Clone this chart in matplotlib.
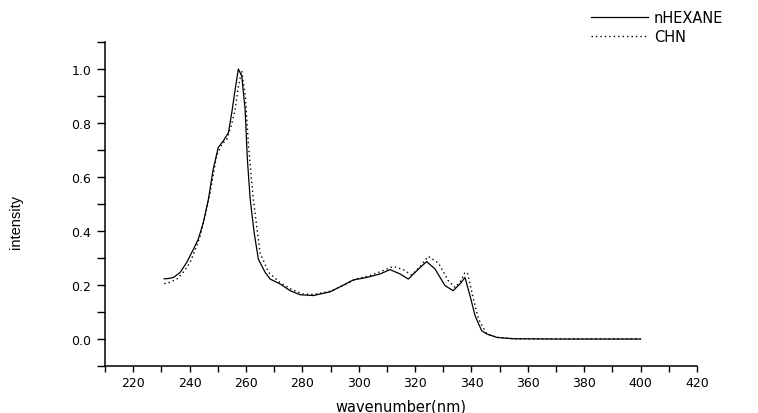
import numpy as np
import matplotlib.pyplot as plt
from matplotlib.ticker import MultipleLocator

plt.rcParams['font.family'] = ['DejaVu Sans']

# nHEXANE spectrum
hex_x = [231, 232.5, 234.3, 236.7, 239.0, 241.4, 243.1, 244.9, 246.7, 248.4, 250.2,
         252.0, 253.8, 255.0, 256.2, 257.3, 258.5, 259.7, 260.5, 261.5, 262.9, 264.4,
         266.8, 268.6, 272.1, 275.7, 279.2, 283.9, 289.9, 294.6, 298.1, 302.8, 307.6,
         311.1, 314.7, 317.6, 320.6, 324.1, 327.1, 330.6, 333.5, 335.9, 337.7, 339.5,
         341.3, 343.6, 345.4, 349.0, 355.0, 370.0, 385.0, 400.0]
hex_y = [0.223, 0.224, 0.228, 0.247, 0.284, 0.333, 0.370, 0.432, 0.518, 0.630, 0.710,
         0.734, 0.765, 0.840, 0.926, 1.000, 0.975, 0.852, 0.667, 0.519, 0.395, 0.296,
         0.247, 0.222, 0.204, 0.179, 0.164, 0.161, 0.175, 0.200, 0.219, 0.228, 0.241,
         0.257, 0.241, 0.222, 0.253, 0.287, 0.259, 0.198, 0.179, 0.204, 0.228, 0.160,
         0.086, 0.031, 0.019, 0.006, 0.001, 0.0, 0.0, 0.0]

# CHN spectrum
chn_x = [231, 233.0, 235.5, 238.0, 240.2, 242.0, 243.8, 245.5, 247.3, 249.6, 251.5,
         253.2, 254.8, 256.2, 257.4, 258.5, 259.8, 260.9, 262.6, 265.0, 268.0, 272.0,
         276.0, 280.0, 284.0, 290.0, 295.0, 299.0, 303.5, 307.6, 312.3, 315.8, 318.8,
         321.8, 324.7, 328.3, 331.8, 334.2, 336.2, 337.7, 338.6, 340.7, 342.5, 345.4,
         349.0, 355.0, 370.0, 385.0, 400.0]
chn_y = [0.205, 0.210, 0.222, 0.250, 0.284, 0.330, 0.383, 0.455, 0.543, 0.679, 0.722,
         0.740, 0.790, 0.852, 0.940, 0.994, 0.900, 0.716, 0.519, 0.320, 0.247, 0.210,
         0.185, 0.167, 0.165, 0.177, 0.200, 0.222, 0.233, 0.249, 0.269, 0.257, 0.237,
         0.269, 0.306, 0.281, 0.216, 0.191, 0.215, 0.247, 0.244, 0.148, 0.074, 0.019,
         0.006, 0.001, 0.0, 0.0, 0.0]

fig = plt.figure(figsize=(7.58, 4.14), dpi=100)
ax = fig.add_axes([0.1385, 0.1135, 0.781, 0.7825])

ax.plot(hex_x, hex_y, color='black', lw=0.9, label='nHEXANE')
ax.plot(chn_x, chn_y, color='black', lw=1.0, linestyle=(0, (1, 2.2)), label='CHN')

ax.set_xlim(210, 420)
ax.set_ylim(-0.1, 1.1)
ax.xaxis.set_major_locator(MultipleLocator(20))
ax.xaxis.set_minor_locator(MultipleLocator(10))
ax.yaxis.set_major_locator(MultipleLocator(0.2))
ax.yaxis.set_minor_locator(MultipleLocator(0.1))
ax.yaxis.set_major_formatter(plt.FuncFormatter(lambda v, p: '%.1f' % v))

for s in ['top', 'right']:
    ax.spines[s].set_visible(False)
for s in ['left', 'bottom']:
    ax.spines[s].set_linewidth(1.1)

ax.tick_params(axis='y', which='both', direction='out', length=6, width=1, labelsize=9, pad=4)
ax.tick_params(axis='x', which='both', direction='out', length=4, width=1, labelsize=9, pad=3)

ax.set_xlabel('wavenumber(nm)', fontsize=10.5, labelpad=7)
ax.set_ylabel('intensity', fontsize=10.5, family='Liberation Sans')
ax.yaxis.set_label_coords(-0.138, 0.4475)

fig.legend(loc='upper left', bbox_to_anchor=(591 / 758, 1 - 11 / 414), frameon=False,
           fontsize=10.5, handlelength=3.9, handletextpad=0.4, labelspacing=0.3,
           borderpad=0, borderaxespad=0)

fig.savefig('out.png', dpi=100)
